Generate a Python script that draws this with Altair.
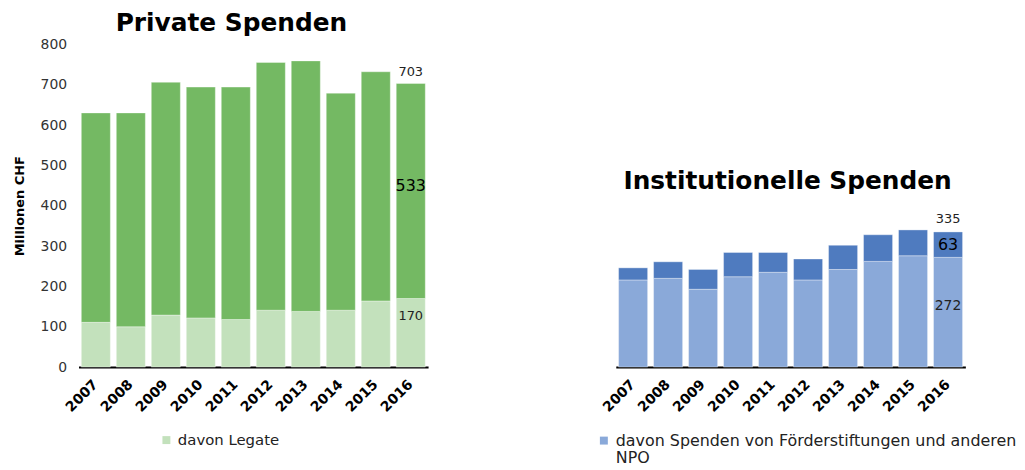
import altair as alt
import pandas as pd

years = ["2007", "2008", "2009", "2010", "2011", "2012", "2013", "2014", "2015", "2016"]
priv_total = [630, 630, 706, 694, 694, 755, 759, 679, 732, 703]
priv_legate = [111, 100, 129, 122, 118, 141, 138, 141, 164, 170]
inst_total = [246, 261, 242, 284, 284, 268, 302, 328, 340, 335]
inst_npo = [216, 220, 193, 224, 235, 216, 242, 262, 276, 272]

priv_top_name = "Private Spenden"
priv_low_name = "davon Legate"
inst_top_name = "Institutionelle Spenden"
inst_low_name = "davon Spenden von Förderstiftungen und anderen NPO"

FONT = "DejaVu Sans"


def long_df(total, low, top_name, low_name):
    rows = []
    for y, t, l in zip(years, total, low):
        rows.append({"year": y, "series": low_name, "y0": 0, "y1": l})
        rows.append({"year": y, "series": top_name, "y0": l, "y1": t})
    return pd.DataFrame(rows)


def label_df(total, low):
    y = years[-1]
    t, l = total[-1], low[-1]
    return pd.DataFrame([
        {"year": y, "v": t, "txt": str(t), "kind": "total"},
        {"year": y, "v": (t + l) / 2, "txt": str(t - l), "kind": "top"},
        {"year": y, "v": l / 2, "txt": str(l), "kind": "low"},
    ])


W, H = 352, 325


def panel(total, low, top_name, low_name, colors, show_y, legend_x, legend_size,
          tot_dy, top_dy, low_dy, low_size):
    df = long_df(total, low, top_name, low_name)
    xenc = alt.X("year:N", title=None, scale=alt.Scale(paddingInner=0.17, paddingOuter=0.08),
                 axis=alt.Axis(labelAngle=-45, labelFontWeight="bold", labelFontSize=14,
                               labelColor="#000", labelFont=FONT, ticks=False, domainColor="#000",
                               domainWidth=2, labelPadding=15, labelAlign="right",
                               labelBaseline="middle"))
    if show_y:
        yaxis = alt.Axis(values=[0, 100, 200, 300, 400, 500, 600, 700, 800], grid=False, domain=False,
                         ticks=False, labelFontSize=14, labelColor="#333", labelFont=FONT,
                         labelPadding=12, title="Millionen CHF", titleFontSize=13,
                         titleFontWeight="bold", titleFont=FONT, titleColor="#000", titlePadding=14)
    else:
        yaxis = None
    bars = alt.Chart(df).mark_bar(stroke="#ffffff", strokeWidth=0.6, strokeOpacity=0.6).encode(
        x=xenc,
        y=alt.Y("y1:Q", scale=alt.Scale(domain=[0, 800], nice=False), axis=yaxis),
        y2="y0:Q",
        color=alt.Color("series:N",
                        scale=alt.Scale(domain=[top_name, low_name], range=colors),
                        legend=alt.Legend(values=[low_name], title=None, orient="none",
                                          legendX=legend_x, legendY=391, symbolType="square",
                                          symbolSize=64, symbolStrokeWidth=0,
                                          labelFontSize=legend_size,
                                          labelFont=FONT, labelColor="#222", labelLimit=600,
                                          labelOffset=4,
                                          labelExpr="datum.label == '" + inst_low_name + "' ? ['davon Spenden von Förderstiftungen und anderen', 'NPO'] : datum.label")),
    )
    ldf = label_df(total, low)
    t_total = alt.Chart(ldf[ldf.kind == "total"]).mark_text(
        dy=tot_dy, fontSize=13, color="#222", font=FONT).encode(x="year:N", y="v:Q", text="txt:N")
    t_top = alt.Chart(ldf[ldf.kind == "top"]).mark_text(
        dy=top_dy, fontSize=16, color="#000", font=FONT).encode(x="year:N", y="v:Q", text="txt:N")
    t_low = alt.Chart(ldf[ldf.kind == "low"]).mark_text(
        dy=low_dy, fontSize=low_size, color="#222", font=FONT).encode(x="year:N", y="v:Q", text="txt:N")
    return alt.layer(bars, t_total, t_top, t_low).properties(width=W, height=H)


left = panel(priv_total, priv_legate, priv_top_name, priv_low_name,
             ["#74B963", "#C3E1BC"], True, 81, 15, -12, -5, -17, 13).properties(
    title=alt.TitleParams(priv_top_name, fontSize=25, font=FONT, fontWeight="bold", color="#000",
                          anchor="middle", frame="group", dx=-22, offset=1))

right_core = panel(inst_total, inst_npo, inst_top_name, inst_low_name,
                   ["#4F7BBF", "#8AA9D9"], False, -20, 16, -13, 0, -6, 14)

rtitle = alt.Chart(pd.DataFrame({"t": [inst_top_name]})).mark_text(
    fontSize=25, font=FONT, fontWeight="bold", color="#000", baseline="middle").encode(
    x=alt.value(W / 2 - 3), y=alt.value(138), text="t:N")

right = alt.layer(right_core, rtitle).properties(width=W, height=H)

chart = alt.hconcat(left, right, spacing=169).resolve_scale(color="independent").properties(
    padding={"left": 5, "top": 2, "right": 0, "bottom": 0}).configure_view(stroke=None)

chart.save("out.html", embed_options={"renderer": "svg", "actions": False})
